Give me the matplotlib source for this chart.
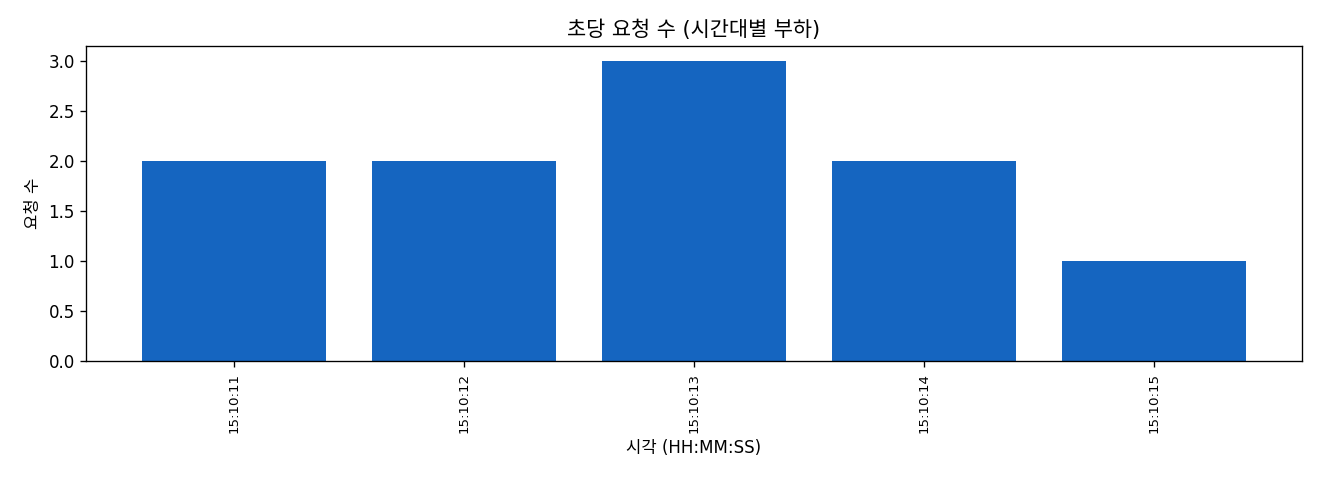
import matplotlib
matplotlib.use("Agg")
import matplotlib.pyplot as plt

plt.rcParams['font.family'] = ['DejaVu Sans', 'Noto Sans CJK KR']

# requests per second
times = ["15:10:11", "15:10:12", "15:10:13", "15:10:14", "15:10:15"]
counts = [2, 2, 3, 2, 1]

fig, ax = plt.subplots(figsize=(11, 4), dpi=120)
ax.bar(range(len(times)), counts, width=0.8, color="#1565C0")
ax.set_xticks(range(len(times)))
ax.set_xticklabels(times, rotation=90, fontsize=8)
ax.tick_params(axis='y', labelsize=10)
ax.set_title("초당 요청 수 (시간대별 부하)", fontsize=12.5)
ax.set_xlabel("시각 (HH:MM:SS)", fontsize=10)
ax.set_ylabel("요청 수", fontsize=10)

fig.subplots_adjust(left=0.0655, right=0.986, top=0.904, bottom=0.248)
fig.savefig("out.png")
